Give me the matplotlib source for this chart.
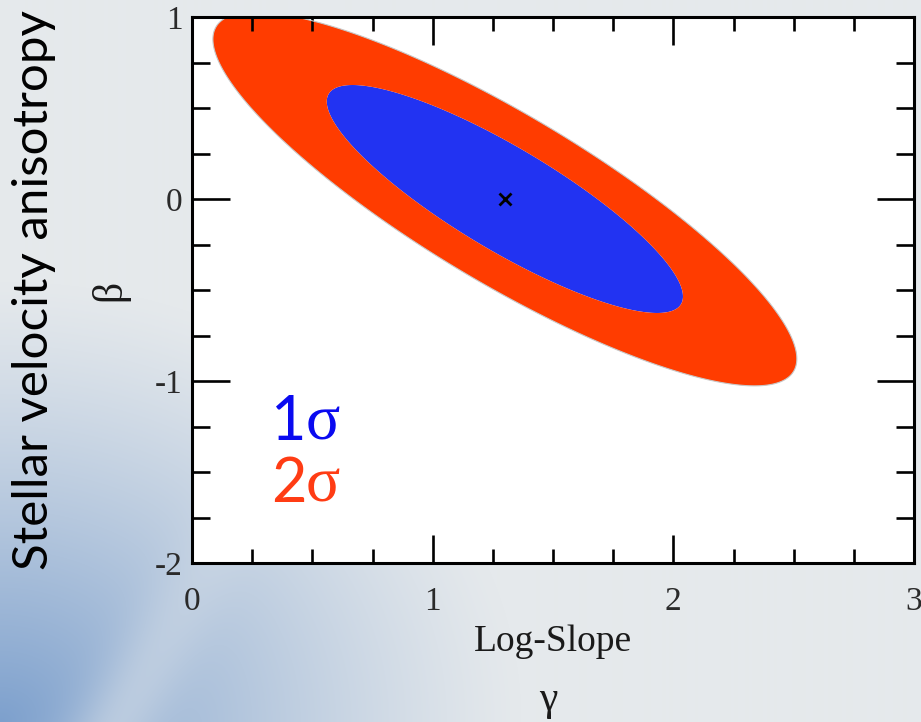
import numpy as np
import matplotlib
matplotlib.use("Agg")
import matplotlib.pyplot as plt
from matplotlib.ticker import MultipleLocator

# ---- data ----
center_gamma = 1.30          # best-fit log-slope
center_beta = 0.0            # best-fit anisotropy
sigma_gamma = 0.488
sigma_beta = 0.413
rho = -0.855
delta_chi2 = [2.30, 6.18]    # 1 sigma, 2 sigma (2 dof)
level_labels = ["1", "2"]
level_colors = ["#2233f2", "#ff3c00"]
label_colors = ["#0a0af0", "#ff3c14"]
xticks = [0, 1, 2, 3]
yticks = [-2, -1, 0, 1]

W, H = 921, 722
fig = plt.figure(figsize=(W / 100, H / 100), dpi=100)

# ---- slide background gradient ----
bg = fig.add_axes([0, 0, 1, 1], zorder=-5)
yy, xx = np.mgrid[0:H, 0:W]
d = np.hypot(xx / 520.0, (H - yy) / 440.0)
t = np.clip(1.0 - d, 0, 1) ** 1.2
streak = np.exp(-((xx - 0.55 * (H - yy) - 120) / 45.0) ** 2) * t * 0.6
top = np.array([229, 233, 236]) / 255.0
blue = np.array([125, 160, 205]) / 255.0
img = top[None, None, :] * (1 - t[..., None]) + blue[None, None, :] * t[..., None]
img = img + (top - img) * streak[..., None]
bg.imshow(img, aspect="auto", extent=(0, 1, 0, 1), origin="upper")
bg.set_axis_off()

# ---- main axes ----
ax = fig.add_axes([192 / W, 1 - 563 / H, (914 - 192) / W, (563 - 17) / H])
ax.set_facecolor("white")

g = np.linspace(-0.2, 3.2, 700)
b = np.linspace(-2.2, 1.2, 700)
G, B = np.meshgrid(g, b)
u = (G - center_gamma) / sigma_gamma
v = (B - center_beta) / sigma_beta
chi2 = (u ** 2 - 2 * rho * u * v + v ** 2) / (1 - rho ** 2)

ax.contourf(G, B, chi2, levels=[0] + delta_chi2, colors=level_colors, antialiased=True)
ax.contour(G, B, chi2, levels=[delta_chi2[1]], colors="#c8c8c8", linewidths=0.8)
ax.plot([center_gamma], [center_beta], marker="x", color="black", ms=9, mew=2)

ax.set_xlim(0, 3)
ax.set_ylim(-2, 1)
ax.set_xticks(xticks)
ax.set_yticks(yticks)
ax.set_xticklabels([str(v) for v in xticks])
ax.set_yticklabels([str(v) for v in yticks])
ax.xaxis.set_minor_locator(MultipleLocator(0.25))
ax.yaxis.set_minor_locator(MultipleLocator(0.25))

for s in ax.spines.values():
    s.set_linewidth(2.2)
ax.tick_params(which="both", direction="in", top=True, right=True, width=1.9, color="black")
ax.tick_params(axis="x", which="major", length=20, pad=17)
ax.tick_params(axis="x", which="minor", length=10)
ax.tick_params(axis="y", which="major", length=27, pad=7)
ax.tick_params(axis="y", which="minor", length=13)
for lab in ax.get_xticklabels() + ax.get_yticklabels():
    lab.set_fontfamily("Liberation Serif")
    lab.set_fontsize(24)
    lab.set_color("#2a2a2a")

# ---- axis texts ----
def px(x, y):
    return x / W, 1 - y / H

fig.text(*px(553, 642), "Log-Slope", family="Liberation Serif", fontsize=27,
         color="#1a1a1a", ha="center", va="center")
fig.text(*px(548, 700), "γ", family="Liberation Serif", fontsize=30,
         color="#1a1a1a", ha="center", va="center")
fig.text(*px(110, 290), "β", family="Liberation Serif", fontsize=30,
         color="#1a1a1a", ha="center", va="center", rotation=90)
fig.text(*px(34, 290), "Stellar velocity anisotropy", family="Lato", fontsize=35.5,
         color="black", ha="center", va="center", rotation=90)

# ---- legend-ish labels inside plot ----
for i, (lab, col) in enumerate(zip(level_labels, label_colors)):
    base = 440 + 62 * i
    fig.text(*px(271, base), lab, family="Lato", fontsize=44, color=col,
             ha="left", va="baseline")
    fig.text(*px(306, base), "σ", family="Liberation Serif", fontsize=46,
             color=col, ha="left", va="baseline")

fig.savefig("out.png", dpi=100)
